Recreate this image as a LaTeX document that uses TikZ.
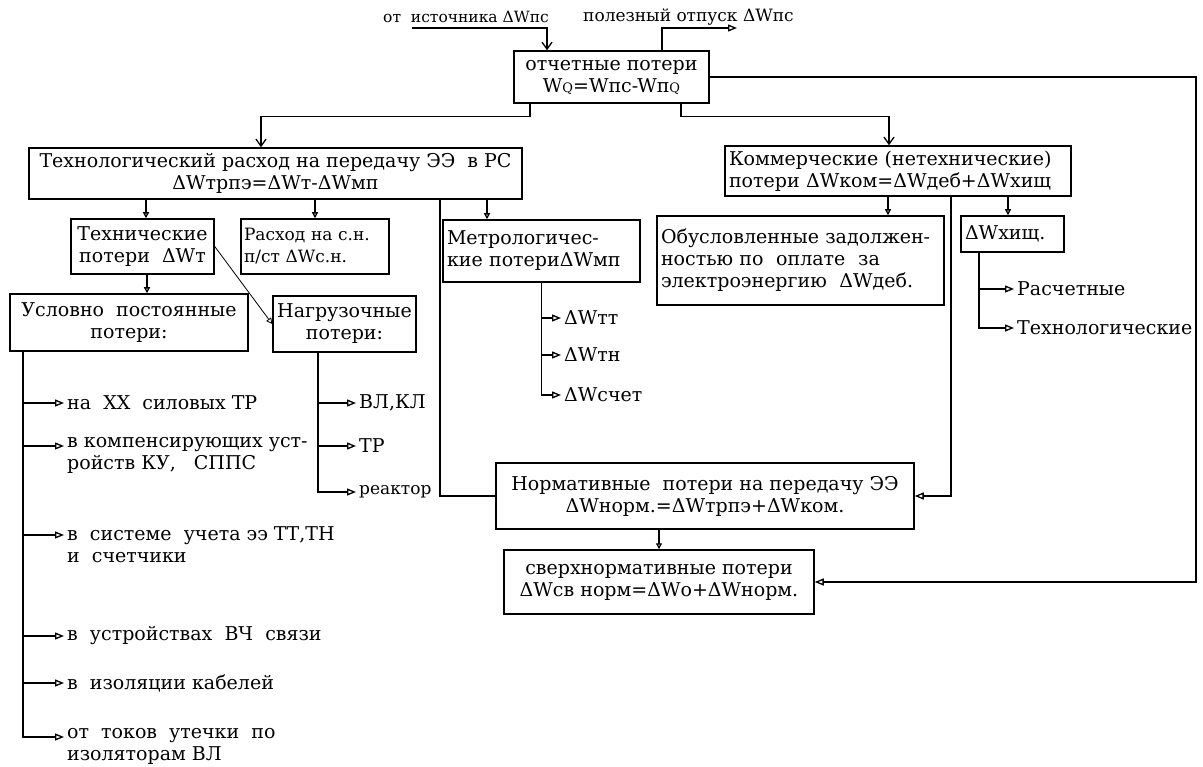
\documentclass[tikz,border=0pt]{standalone}
\usepackage{fontspec}
\setmainfont{DejaVu Serif}
\definecolor{DiagBlack}{HTML}{000000}
\definecolor{DiagWhite}{HTML}{FFFFFF}
\usetikzlibrary{arrows.meta, calc}
\newcommand{\mainsize}{\fontsize{19}{22}\selectfont}
\newcommand{\lowQ}{{\fontsize{13}{13}\selectfont Q}}
\tikzset{
    box/.style={
        draw=DiagBlack,
        fill=DiagWhite,
        line width=1.5pt,
        text=DiagBlack,
        font=\mainsize,
        align=center,
        inner sep=3pt
    },
    leftbox/.style={
        box,
        align=left
    },
    item/.style={
        text=DiagBlack,
        font=\mainsize,
        align=left,
        inner sep=3pt
    },
    link/.style={
        line width=1.3pt,
        DiagBlack
    },
    arrow/.style={
        -{Triangle[open, length=9pt, width=7pt]},
        line width=1.3pt,
        DiagBlack
    },
    smallarrow/.style={
        -{Triangle[open, length=6pt, width=6pt]},
        line width=1.3pt,
        DiagBlack
    },
    bigarrow/.style={
        -{Straight Barb[length=7pt, width=10pt]},
        line width=1.3pt,
        DiagBlack
    }
}

\begin{document}
\begin{tikzpicture}[x=1pt, y=-1pt]
        \useasboundingbox (0,0) rectangle (1203,767);

        % Input and output of the network
        \node[item, anchor=west, font=\fontsize{15.5}{18}\selectfont] (srctext) at (380,17) {от\ \ источника ΔWпс};
        \node[item, anchor=west, font=\fontsize{17}{18}\selectfont] (usetext) at (580,17) {полезный отпуск ΔWпс};
        \coordinate (srcin) at (412,28);
        \coordinate (useout) at (737,28);

        % Reported losses
        \node[box, minimum width=195pt, minimum height=52pt] (report) at (611.5,77) {отчетные потери\\W\lowQ=Wпс-Wп\lowQ};

        % Technological consumption
        \node[box, minimum width=493pt, minimum height=51pt] (techrash) at (275.5,173.5) {Технологический расход на передачу ЭЭ\ \ в РС\\ΔWтрпэ=ΔWт-ΔWмп};
        \node[box, minimum width=143pt, minimum height=55pt] (techloss) at (142.5,246.5) {Технические\\потери\ \ ΔWт};
        \node[leftbox, minimum width=148pt, minimum height=55pt, text width=142pt, inner xsep=2pt, font=\fontsize{17}{22}\selectfont] (ownuse) at (315,246.5) {Расход на с.н.\\п/ст ΔWс.н.};
        \node[leftbox, minimum width=197pt, minimum height=62pt, text width=189pt] (metro) at (541.5,251) {Метрологичес-\\кие потериΔWмп};
        \node[box, minimum width=238pt, minimum height=57pt] (constloss) at (129,322.5) {Условно\ \ постоянные\\потери:};
        \node[box, minimum width=143pt, minimum height=56pt] (loadloss) at (344.5,324) {Нагрузочные\\потери:};

        % Commercial losses
        \node[leftbox, minimum width=346pt, minimum height=50pt, text width=338pt] (comm) at (898,171) {Коммерческие (нетехнические)\\потери ΔWком=ΔWдеб+ΔWхищ};
        \node[leftbox, minimum width=287pt, minimum height=89pt, text width=279pt] (debt) at (800.5,260.5) {Обусловленные задолжен-\\ностью по\ \ оплате\ \ за\\электроэнергию\ \ ΔWдеб.};
        \node[leftbox, minimum width=103pt, minimum height=36pt, text width=95pt] (theft) at (1012.5,234) {ΔWхищ.};

        % Normative and excess losses
        \node[box, minimum width=418pt, minimum height=66pt] (norm) at (705,496) {Нормативные\ \ потери на передачу ЭЭ\\ΔWнорм.=ΔWтрпэ+ΔWком.};
        \node[box, minimum width=310pt, minimum height=64pt] (excess) at (659,582) {сверхнормативные потери\\ΔWсв норм=ΔWо+ΔWнорм.};

        % Constant losses list
        \node[item, anchor=west] (idle) at (64,403) {на\ \ ХХ\ \ силовых ТР};
        \node[item, anchor=north west] (comp) at (64,434) {в компенсирующих уст-\\ройств КУ,\ \ \ СППС};
        \node[item, anchor=north west] (meter) at (64,523) {в\ \ системе\ \ учета ээ ТТ,ТН\\и\ \ счетчики};
        \node[item, anchor=west] (hfcom) at (64,636) {в\ \ устройствах\ \ ВЧ\ \ связи};
        \node[item, anchor=west] (cable) at (64,683) {в\ \ изоляции кабелей};
        \node[item, anchor=north west] (leak) at (64,725) {от\ \ токов\ \ утечки\ \ по\\изоляторам ВЛ};

        % Load losses list
        \node[item, anchor=west] (lines) at (356,403) {ВЛ,КЛ};
        \node[item, anchor=west] (trans) at (356,446) {ТР};
        \node[item, anchor=west, font=\fontsize{17}{22}\selectfont] (react) at (356,492) {реактор};

        % Metering losses list
        \node[item, anchor=west] (ctloss) at (561,318) {ΔWтт};
        \node[item, anchor=west] (vtloss) at (561,355) {ΔWтн};
        \node[item, anchor=west] (mtloss) at (561,395) {ΔWсчет};

        % Theft list
        \node[item, anchor=west] (calc) at (1014,289) {Расчетные};
        \node[item, anchor=west] (techn) at (1014,328) {Технологические};

        % Connectors at the top
        \draw[bigarrow] (srcin) -| ([xshift=-64.5pt]report.north);
        \draw[arrow] ([xshift=50.5pt]report.north) |- (useout);
        \draw[bigarrow] ([xshift=-81.5pt]report.south) -- ++(0,13) -| ([xshift=-14.5pt]techrash.north);
        \draw[bigarrow] ([xshift=69.5pt]report.south) -- ++(0,13) -| ([xshift=-9pt]comm.north);
        \coordinate (rside) at (1196,77);
        \draw[arrow] (report.east) -- (rside) |- (excess.east);

        % Connectors of technological consumption
        \draw[smallarrow] ([xshift=3.5pt]techloss.north |- techrash.south) -- ([xshift=3.5pt]techloss.north);
        \draw[smallarrow] (ownuse.north |- techrash.south) -- (ownuse.north);
        \draw[smallarrow] ([xshift=-54.5pt]metro.north |- techrash.south) -- ([xshift=-54.5pt]metro.north);
        \draw[smallarrow] ([xshift=4.5pt]techloss.south) -- ([xshift=4.5pt]techloss.south |- constloss.north);
        \draw[smallarrow, line width=0.8pt] (techloss.east) -- (loadloss.west);
        \draw[link] ([xshift=164.5pt]techrash.south) |- (norm.west);

        % Connectors of commercial losses
        \draw[smallarrow] ([xshift=-10pt]comm.south) -- ([xshift=-10pt]comm.south |- debt.north);
        \draw[smallarrow] ([xshift=-4.5pt]theft.north |- comm.south) -- ([xshift=-4.5pt]theft.north);
        \draw[arrow] ([xshift=53pt]comm.south) |- (norm.east);
        \draw[smallarrow] (excess.north |- norm.south) -- (excess.north);

        % Branches of the lists
        \coordinate (ctrunk) at ([xshift=-106pt]constloss.south);
        \draw[arrow] (ctrunk) |- ([yshift=-12pt]leak.north west);
        \draw[arrow] (ctrunk |- idle.west) -- (idle.west);
        \draw[arrow] ([yshift=-12pt]ctrunk |- comp.north west) -- ([yshift=-12pt]comp.north west);
        \draw[arrow] ([yshift=-12pt]ctrunk |- meter.north west) -- ([yshift=-12pt]meter.north west);
        \draw[arrow] (ctrunk |- hfcom.west) -- (hfcom.west);
        \draw[arrow] (ctrunk |- cable.west) -- (cable.west);

        \coordinate (ltrunk) at ([xshift=-26.5pt]loadloss.south);
        \draw[arrow] (ltrunk) |- (react.west);
        \draw[arrow] (ltrunk |- lines.west) -- (lines.west);
        \draw[arrow] (ltrunk |- trans.west) -- (trans.west);

        \draw[arrow] (metro.south) |- (mtloss.west);
        \draw[arrow] (metro.south |- ctloss.west) -- (ctloss.west);
        \draw[arrow] (metro.south |- vtloss.west) -- (vtloss.west);

        \coordinate (ttrunk) at ([xshift=-33.5pt]theft.south);
        \draw[arrow] (ttrunk) |- (techn.west);
        \draw[arrow] (ttrunk |- calc.west) -- (calc.west);
    \end{tikzpicture}
\end{document}
